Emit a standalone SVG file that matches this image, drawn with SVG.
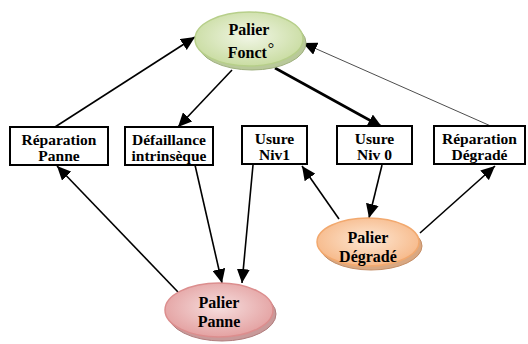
<svg xmlns="http://www.w3.org/2000/svg" width="528" height="344" viewBox="0 0 528 344">
<style>
.box{fill:#fff;stroke:#000;stroke-width:2}
text{font-family:'Liberation Serif','Times New Roman','DejaVu Serif',serif;font-weight:bold;font-size:15.5px;text-anchor:middle;fill:#000}
.e{font-size:16px}
.c{stroke:#000;stroke-width:1.6;fill:none;marker-end:url(#ah)}
</style>
<defs>
<marker id="ah" markerUnits="userSpaceOnUse" markerWidth="15" markerHeight="13" refX="14" refY="6.5" orient="auto">
<path d="M0,0 L14,6.5 L0,13 Z" fill="#000"/>
</marker>
<radialGradient id="gG" cx="50%" cy="45%" r="60%"><stop offset="0" stop-color="#f1f6e6"/><stop offset="1" stop-color="#c6da9c"/></radialGradient>
<radialGradient id="gO" cx="50%" cy="45%" r="60%"><stop offset="0" stop-color="#fde7d3"/><stop offset="1" stop-color="#f6b583"/></radialGradient>
<radialGradient id="gR" cx="50%" cy="45%" r="60%"><stop offset="0" stop-color="#f6dede"/><stop offset="1" stop-color="#e29c9c"/></radialGradient>
</defs>
<g id="connectors">
<line class="c" x1="55" y1="127" x2="195" y2="37"/>
<line class="c" x1="232" y1="70" x2="178" y2="127"/>
<line class="c" x1="275" y1="68" x2="382" y2="127" style="stroke-width:2.6"/>
<line class="c" x1="493" y1="127" x2="303" y2="43" style="stroke-width:0.7"/>
<line class="c" x1="195" y1="165" x2="222" y2="283"/>
<line class="c" x1="253" y1="165" x2="242" y2="283"/>
<line class="c" x1="178" y1="292" x2="57" y2="166"/>
<line class="c" x1="339" y1="219" x2="302" y2="166"/>
<line class="c" x1="382" y1="165" x2="369" y2="218"/>
<line class="c" x1="420" y1="233" x2="495" y2="166"/>
</g>
<g id="palier-fonct">
<ellipse cx="252" cy="43" rx="54" ry="27" fill="#b9c99a" stroke="#9fb07e" stroke-width="1"/>
<ellipse cx="249" cy="39" rx="54" ry="27" fill="url(#gG)" stroke="#b7cf8a" stroke-width="1.5"/>
<text class="e" x="249" y="35" font-family="Liberation Serif, serif">Palier</text>
<text class="e" x="251" y="58" font-family="Liberation Serif, serif">Fonct<tspan dx="1" dy="-4" font-weight="normal">°</tspan></text>
</g>
<g id="palier-degrade">
<ellipse cx="371" cy="246" rx="51" ry="24" fill="#d9a882" stroke="#c58e66" stroke-width="1"/>
<ellipse cx="368" cy="242" rx="51" ry="24" fill="url(#gO)" stroke="#f2a96f" stroke-width="1.5"/>
<text class="e" x="368" y="243" font-family="Liberation Serif, serif">Palier</text>
<text class="e" x="368" y="262" font-family="Liberation Serif, serif">Dégradé</text>
</g>
<g id="palier-panne">
<ellipse cx="222" cy="314" rx="54" ry="27" fill="#c99a9a" stroke="#b07d7d" stroke-width="1"/>
<ellipse cx="219" cy="310" rx="54" ry="27" fill="url(#gR)" stroke="#dc8e8e" stroke-width="1.5"/>
<text class="e" x="219" y="308" font-family="Liberation Serif, serif">Palier</text>
<text class="e" x="219" y="327" font-family="Liberation Serif, serif">Panne</text>
</g>
<g id="reparation-panne">
<rect class="box" x="10" y="127" width="98" height="38"/>
<text x="59" y="145" font-family="Liberation Serif, serif">Réparation</text>
<text x="59" y="161" font-family="Liberation Serif, serif">Panne</text>
</g>
<g id="defaillance">
<rect class="box" x="125" y="127" width="88" height="38"/>
<text x="169" y="145" font-family="Liberation Serif, serif">Défaillance</text>
<text x="169" y="161" font-family="Liberation Serif, serif">intrinsèque</text>
</g>
<g id="usure-niv1">
<rect class="box" x="242" y="126" width="65" height="38"/>
<text x="274.5" y="144" font-family="Liberation Serif, serif">Usure</text>
<text x="274.5" y="160" font-family="Liberation Serif, serif">Niv1</text>
</g>
<g id="usure-niv0">
<rect class="box" x="337" y="126" width="75" height="38"/>
<text x="374.5" y="144" font-family="Liberation Serif, serif">Usure</text>
<text x="374.5" y="160" font-family="Liberation Serif, serif">Niv 0</text>
</g>
<g id="reparation-degrade">
<rect class="box" x="434" y="126" width="91" height="38"/>
<text x="479.5" y="144" font-family="Liberation Serif, serif">Réparation</text>
<text x="479.5" y="160" font-family="Liberation Serif, serif">Dégradé</text>
</g>
</svg>
